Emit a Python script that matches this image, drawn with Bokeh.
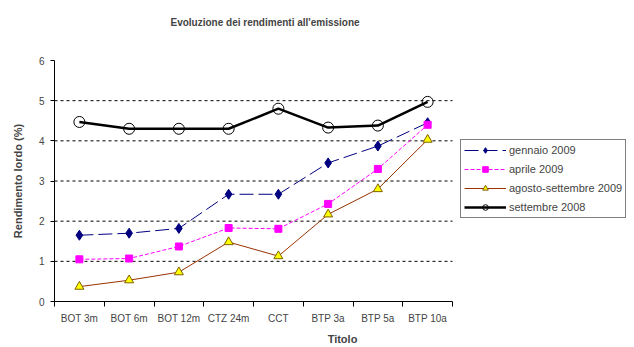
import numpy as np
from bokeh.plotting import figure
from bokeh.models import ColumnDataSource, FixedTicker, Legend, LegendItem, Range1d, Title
from bokeh.embed import file_html
from bokeh.resources import INLINE

categories = ["BOT 3m", "BOT 6m", "BOT 12m", "CTZ 24m", "CCT", "BTP 3a", "BTP 5a", "BTP 10a"]
gennaio_2009 = [1.65, 1.70, 1.82, 2.67, 2.67, 3.45, 3.87, 4.45]
aprile_2009 = [1.05, 1.07, 1.37, 1.83, 1.81, 2.43, 3.30, 4.40]
agosto_settembre_2009 = [0.37, 0.53, 0.73, 1.48, 1.13, 2.17, 2.80, 4.03]
settembre_2008 = [4.47, 4.30, 4.30, 4.30, 4.80, 4.33, 4.38, 4.97]
y_ticks = [0, 1, 2, 3, 4, 5, 6]

FONT = "Liberation Sans"
n = len(categories)
xs = np.arange(n) + 0.5

# frame spans past the plot area so the legend can sit to its right;
# the axis and grid are bounded to the categories
FRAME_LEFT, PLOT_RIGHT, RIGHT_BORDER = 54, 452, 4
frame_w = 634 - FRAME_LEFT - RIGHT_BORDER
x_end = n * frame_w / (PLOT_RIGHT - FRAME_LEFT)

p = figure(width=634, height=347, output_backend="svg", toolbar_location=None, title=None,
           x_range=Range1d(0, x_end), y_range=Range1d(0, 6),
           min_border_left=FRAME_LEFT, min_border_right=RIGHT_BORDER, min_border_top=60, min_border_bottom=46)
p.outline_line_color = None
p.background_fill_color = "white"
p.border_fill_color = "white"

# spacer between frame and title, then the title itself
p.add_layout(Title(text=" ", text_font=FONT, text_font_size="10px", standoff=10), "above")
p.add_layout(Title(text="Evoluzione dei rendimenti all'emissione", align="left", offset=116,
                   text_font=FONT, text_font_size="10px", text_font_style="bold", standoff=20), "above")

# axes
xa = p.xaxis[0]
xa.bounds = (0, n)
xa.ticker = FixedTicker(ticks=list(xs), minor_ticks=list(range(0, n + 1)))
xa.major_label_overrides = {float(x): c for x, c in zip(xs, categories)}
xa.major_tick_out = 0
xa.major_tick_in = 0
xa.minor_tick_out = 5
xa.minor_tick_in = 0
xa.minor_tick_line_color = "black"
xa.axis_line_color = "black"
xa.major_label_text_font = FONT
xa.major_label_text_font_size = "10px"
xa.major_label_standoff = 6
xa.axis_label = "Titolo"
xa.axis_label_text_font = FONT
xa.axis_label_text_font_size = "11px"
xa.axis_label_text_font_style = "bold"
xa.axis_label_standoff = 6

ya = p.yaxis[0]
ya.ticker = FixedTicker(ticks=y_ticks)
ya.minor_tick_line_color = None
ya.major_tick_out = 4
ya.major_tick_in = 0
ya.axis_line_color = "black"
ya.major_label_text_font = FONT
ya.major_label_text_font_size = "10px"
ya.major_label_standoff = 6
ya.axis_label = "Rendimento lordo (%)"
ya.axis_label_text_font = FONT
ya.axis_label_text_font_size = "11px"
ya.axis_label_text_font_style = "bold"
ya.axis_label_standoff = 12

p.grid.grid_line_color = None

# dashed gridlines limited to the category area
grid_y = y_ticks[1:-1]
p.segment(x0=[0] * len(grid_y), x1=[n] * len(grid_y), y0=grid_y, y1=grid_y,
          line_color="black", line_width=1, line_dash="3 3")

src = ColumnDataSource(dict(x=xs, g=gennaio_2009, a=aprile_2009, s=agosto_settembre_2009, o=settembre_2008))

r1l = p.line("x", "g", source=src, line_color="#000080", line_width=1, line_dash="14 5")
r1m = p.scatter("x", "g", source=src, marker="diamond", size=10, fill_color="#000080", line_color="#000080")

r2l = p.line("x", "a", source=src, line_color="#FF00FF", line_width=1, line_dash="4 2")
r2m = p.scatter("x", "a", source=src, marker="square", size=7, fill_color="#FF00FF", line_color="#FF00FF")

r3l = p.line("x", "s", source=src, line_color="#993300", line_width=1)
r3m = p.scatter("x", "s", source=src, marker="triangle", size=9, fill_color="#FFFF00", line_color="#806000")

r4l = p.line("x", "o", source=src, line_color="black", line_width=2.5)
r4m = p.scatter("x", "o", source=src, marker="circle", size=11, fill_color=None, line_color="black")

legend = Legend(items=[
    LegendItem(label="gennaio 2009", renderers=[r1l, r1m]),
    LegendItem(label="aprile 2009", renderers=[r2l, r2m]),
    LegendItem(label="agosto-settembre 2009", renderers=[r3l, r3m]),
    LegendItem(label="settembre 2008", renderers=[r4l, r4m]),
], location=(406, 83))
legend.border_line_color = "black"
legend.border_line_width = 1
legend.background_fill_alpha = 1
legend.label_text_font = FONT
legend.label_text_font_size = "11px"
legend.glyph_width = 42
legend.glyph_height = 14
legend.label_height = 14
legend.spacing = 5
legend.padding = 3
legend.margin = 0
legend.label_standoff = 3
p.add_layout(legend, "center")

open("out.html", "w").write(file_html(p, INLINE))
